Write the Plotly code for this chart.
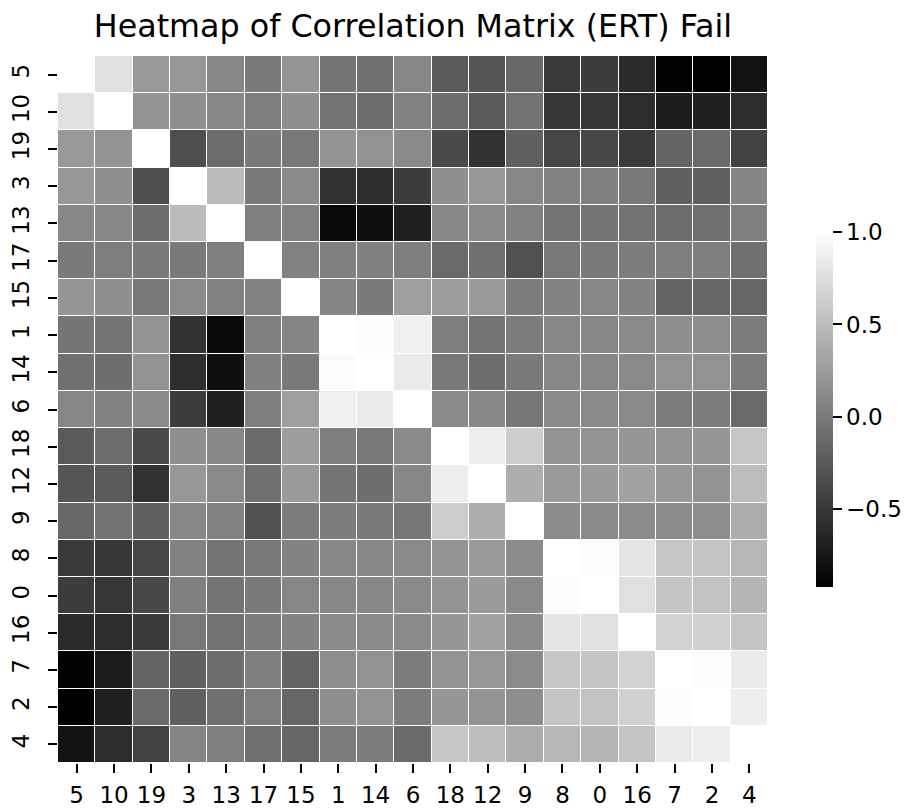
import plotly.graph_objects as go

# Variable order used on both axes
labels = ["5", "10", "19", "3", "13", "17", "15", "1", "14", "6",
          "18", "12", "9", "8", "0", "16", "7", "2", "4"]

# Lower triangle of the correlation matrix (row i holds columns 0..i)
corr_lower = [
    [1.00],
    [0.77, 1.00],
    [0.23, 0.19, 1.00],
    [0.22, 0.16, -0.33, 1.00],
    [0.10, 0.10, -0.11, 0.49, 1.00],
    [0.00, 0.02, 0.00, 0.00, 0.04, 1.00],
    [0.20, 0.16, -0.02, 0.12, 0.06, 0.06, 1.00],
    [-0.04, -0.05, 0.19, -0.54, -0.85, 0.04, 0.08, 1.00],
    [-0.08, -0.09, 0.18, -0.57, -0.81, 0.04, 0.00, 0.97, 1.00],
    [0.09, 0.06, 0.12, -0.47, -0.69, 0.03, 0.27, 0.88, 0.84, 1.00],
    [-0.24, -0.11, -0.36, 0.16, 0.10, -0.12, 0.26, 0.03, -0.02, 0.12, 1.00],
    [-0.28, -0.24, -0.54, 0.22, 0.12, -0.08, 0.24, -0.05, -0.09, 0.10, 0.87, 1.00],
    [-0.14, -0.06, -0.20, 0.10, 0.06, -0.32, 0.01, 0.01, 0.00, -0.03, 0.63, 0.39, 1.00],
    [-0.48, -0.51, -0.39, 0.06, -0.05, -0.02, 0.07, 0.10, 0.10, 0.12, 0.19, 0.24, 0.13, 1.00],
    [-0.47, -0.51, -0.38, 0.04, -0.05, 0.00, 0.09, 0.10, 0.10, 0.12, 0.19, 0.25, 0.12, 0.98, 1.00],
    [-0.60, -0.59, -0.48, -0.02, -0.06, 0.01, 0.07, 0.12, 0.12, 0.12, 0.21, 0.30, 0.13, 0.80, 0.77, 1.00],
    [-0.90, -0.71, -0.17, -0.20, -0.09, 0.03, -0.17, 0.15, 0.18, 0.01, 0.19, 0.22, 0.13, 0.57, 0.56, 0.66, 1.00],
    [-0.92, -0.68, -0.12, -0.20, -0.08, 0.03, -0.15, 0.15, 0.18, 0.01, 0.21, 0.19, 0.15, 0.56, 0.54, 0.65, 0.98, 1.00],
    [-0.78, -0.59, -0.42, 0.08, 0.04, -0.08, -0.15, 0.01, 0.01, -0.12, 0.57, 0.50, 0.38, 0.45, 0.44, 0.56, 0.84, 0.87, 1.00],
]

colorbar_ticks = [-0.5, 0.0, 0.5, 1.0]

# Fill the full symmetric matrix from the lower triangle
n = len(labels)
corr = [[0.0] * n for _ in range(n)]
for i, row in enumerate(corr_lower):
    for j, v in enumerate(row):
        corr[i][j] = v
        corr[j][i] = v

zmin = min(min(r) for r in corr)
zmax = max(max(r) for r in corr)

FONT = "DejaVu Sans"
TICK_SIZE = 23

fig = go.Figure(
    go.Heatmap(
        z=corr,
        x=labels,
        y=labels,
        zmin=zmin,
        zmax=zmax,
        colorscale=[[0, "rgb(0,0,0)"], [1, "rgb(255,255,255)"]],
        xgap=1,
        ygap=1,
        colorbar=dict(
            xref="container",
            x=816 / 918,
            xanchor="left",
            xpad=0,
            yref="paper",
            y=0.5,
            yanchor="middle",
            ypad=0,
            len=0.502,
            lenmode="fraction",
            thickness=17,
            outlinewidth=0,
            ticks="outside",
            ticklen=9,
            tickwidth=2,
            tickcolor="black",
            tickvals=colorbar_ticks,
            tickformat=".1f",
            tickfont=dict(family=FONT, size=TICK_SIZE, color="black"),
        ),
    )
)

axis_style = dict(
    type="category",
    automargin=False,
    showgrid=False,
    zeroline=False,
    showline=False,
    ticks="outside",
    ticklen=9,
    tickwidth=2,
    tickcolor="black",
    tickfont=dict(family=FONT, size=TICK_SIZE, color="black"),
)

fig.update_layout(
    width=918,
    height=808,
    margin=dict(l=58, r=150, t=56, b=45),
    paper_bgcolor="white",
    plot_bgcolor="white",
    title=dict(
        text="Heatmap of Correlation Matrix (ERT) Fail",
        font=dict(family=FONT, size=31.75, color="black"),
        x=(58 + 768) / 2 / 918,
        xanchor="center",
        yref="container",
        y=1 - 26 / 808,
        yanchor="middle",
    ),
    xaxis=dict(axis_style, tickangle=0, ticklabelstandoff=2),
    yaxis=dict(axis_style, autorange="reversed", tickangle=-90, ticklabelstandoff=10),
)

fig.write_html("out.html")
